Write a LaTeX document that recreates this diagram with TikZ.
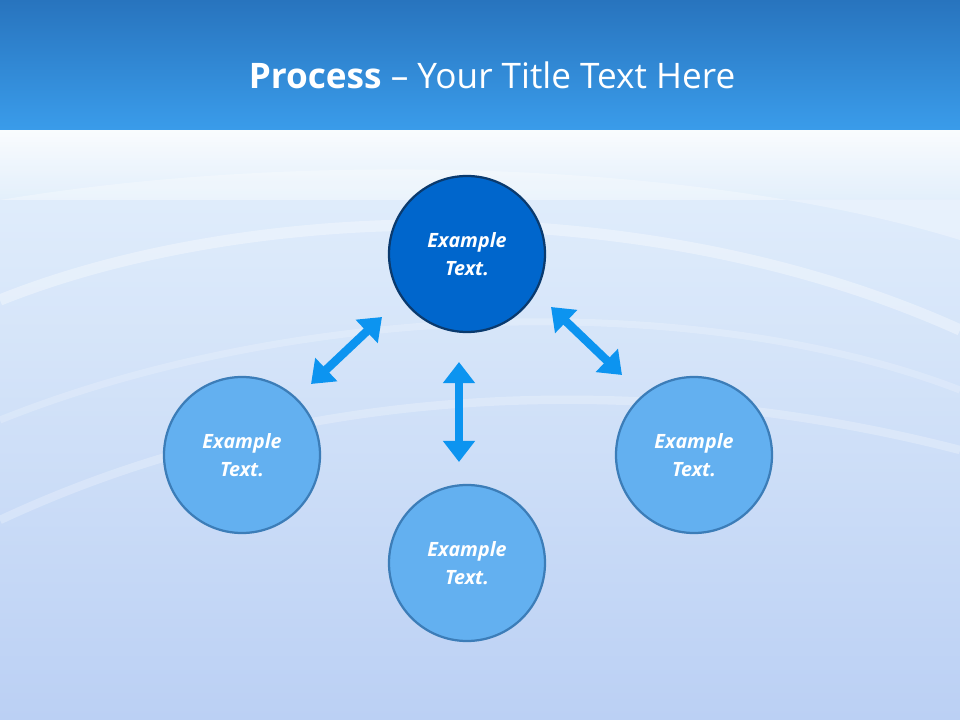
\documentclass[tikz,border=0pt]{standalone}
\usepackage{fontspec}
\setmainfont{Open Sans}
\usetikzlibrary{arrows.meta}
\definecolor{band1}{HTML}{2874BE}
\definecolor{band2}{HTML}{3A9CEA}
\definecolor{bgtop}{HTML}{E4F0FC}
\definecolor{bgbot}{HTML}{BBD0F4}
\definecolor{darkc}{HTML}{0066CC}
\definecolor{darkb}{HTML}{0A3A6E}
\definecolor{lightc}{HTML}{63B0F0}
\definecolor{lightb}{HTML}{3C7DB8}
\definecolor{arr}{HTML}{0C94F0}
\tikzset{
 circ/.style={circle,minimum size=156*0.025cm,line width=1.6pt,text=white,font=\fontsize{14}{20}\selectfont\bfseries\itshape,align=center,inner sep=0pt},
 topc/.style={circ,fill=darkc,draw=darkb},
 subc/.style={circ,fill=lightc,draw=lightb},
 dblarrow/.style={draw=arr,line width=6pt,{Triangle[length=15pt,width=22pt]}-{Triangle[length=15pt,width=22pt]}}
}
\begin{document}
\begin{tikzpicture}[x=0.025cm,y=-0.025cm]
\useasboundingbox (0,0) rectangle (960,720);
\shade[top color=bgtop,bottom color=bgbot] (0,130) rectangle (960,720);
\shade[top color=white,bottom color=bgtop,opacity=0.8] (0,130) rectangle (960,200);
\fill[white,opacity=0.3] (0,200) .. controls (300,150) and (700,160) .. (960,240) -- (960,200) -- cycle;
\draw[white,opacity=0.35,line width=8pt] (0,300) .. controls (250,200) and (650,190) .. (960,330);
\draw[white,opacity=0.25,line width=6pt] (0,520) .. controls (300,380) and (650,370) .. (960,450);
\draw[white,opacity=0.2,line width=5pt] (0,420) .. controls (300,300) and (700,290) .. (960,390);
\shade[top color=band1,bottom color=band2] (0,0) rectangle (960,130);
\node[text=white,font=\fontsize{25}{30}\selectfont] (title) at (492,75) {\textbf{Process} – Your Title Text Here};
\node[topc] (top) at (467,254) {Example\\Text.};
\node[subc] (left) at (242,455) {Example\\Text.};
\node[subc] (bot) at (467,563) {Example\\Text.};
\node[subc] (right) at (694,455) {Example\\Text.};
\coordinate (l1) at (311,384); \coordinate (l2) at (382,317);
\coordinate (c1) at (459,362); \coordinate (c2) at (459,462);
\coordinate (r1) at (551,307); \coordinate (r2) at (622,375);
\draw[dblarrow] (l1) -- (l2);
\draw[dblarrow] (c1) -- (c2);
\draw[dblarrow] (r1) -- (r2);
\end{tikzpicture}
\end{document}
